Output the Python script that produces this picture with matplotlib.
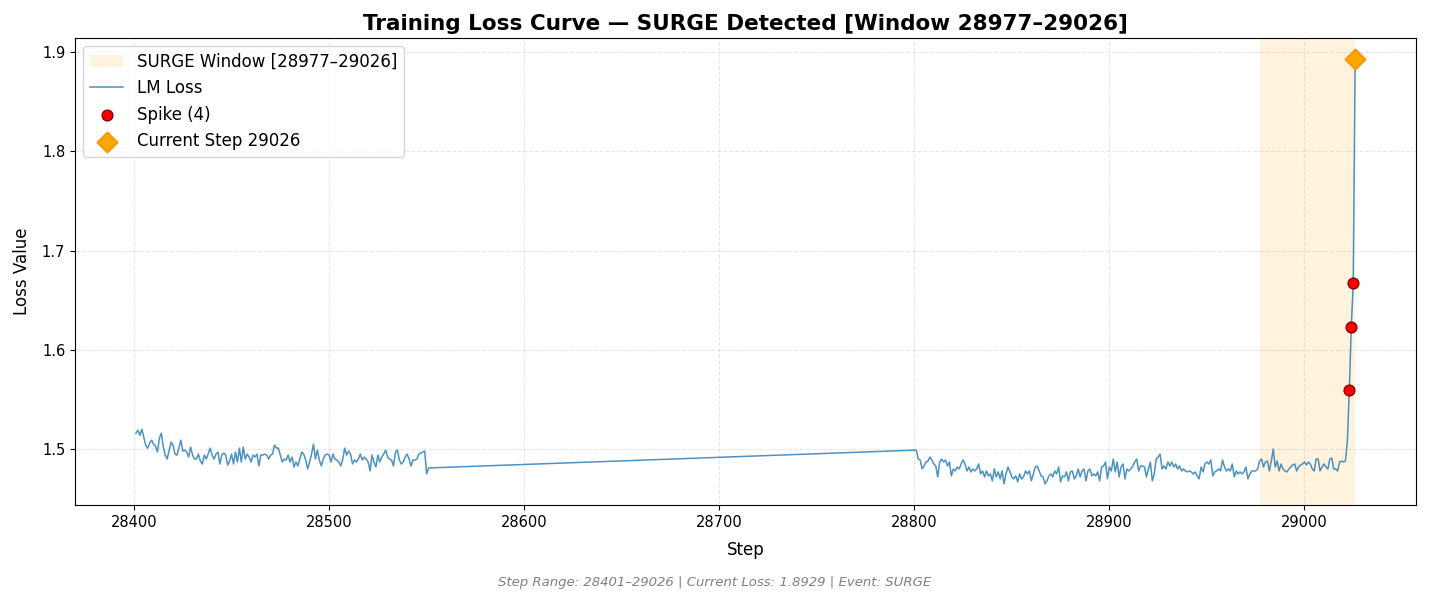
import numpy as np
import matplotlib
matplotlib.use('Agg')
import matplotlib.pyplot as plt

# Loss values (steps 28401-28551, then 28801-29026)
seg1_start = 28401
seg1_loss = [
    1.516, 1.519, 1.514, 1.520, 1.512, 1.504, 1.501, 1.506, 1.509, 1.505,
    1.503, 1.497, 1.511, 1.516, 1.502, 1.494, 1.490, 1.499, 1.507, 1.504,
    1.495, 1.494, 1.501, 1.509, 1.498, 1.499, 1.497, 1.492, 1.502, 1.494,
    1.490, 1.490, 1.495, 1.488, 1.485, 1.494, 1.490, 1.495, 1.501, 1.494,
    1.490, 1.495, 1.497, 1.485, 1.494, 1.496, 1.494, 1.484, 1.488,
    1.495, 1.485, 1.497, 1.487, 1.501, 1.487, 1.502, 1.490, 1.495, 1.492,
    1.487, 1.494, 1.492, 1.495, 1.483, 1.494, 1.494, 1.495, 1.494, 1.490,
    1.494, 1.495, 1.504, 1.501, 1.501, 1.494, 1.487, 1.490, 1.489, 1.494,
    1.487, 1.492, 1.482, 1.487, 1.483, 1.490, 1.497, 1.495, 1.489, 1.480,
    1.487, 1.495, 1.505, 1.490, 1.499, 1.489, 1.483, 1.490, 1.494, 1.495,
    1.494, 1.487, 1.495, 1.490, 1.489, 1.487, 1.483, 1.490, 1.501, 1.494,
    1.498, 1.495, 1.485, 1.489, 1.487, 1.490, 1.495, 1.489, 1.492, 1.490,
    1.487, 1.478, 1.494, 1.487, 1.482, 1.494, 1.487, 1.492, 1.495, 1.499,
    1.492, 1.490, 1.489, 1.483, 1.497, 1.499, 1.489, 1.485, 1.487, 1.492,
    1.495, 1.490, 1.483, 1.489, 1.489, 1.490, 1.495, 1.496, 1.497, 1.498,
    1.475, 1.481,
]
seg2_start = 28801
seg2_loss = [
    1.499, 1.490, 1.489, 1.480, 1.483, 1.487, 1.488, 1.492, 1.489, 1.485,
    1.483, 1.472, 1.487, 1.490, 1.487, 1.489, 1.483, 1.487, 1.473, 1.480,
    1.478, 1.482, 1.480, 1.485, 1.489, 1.485, 1.478, 1.482, 1.477, 1.480,
    1.478, 1.480, 1.485, 1.475, 1.478, 1.472, 1.478, 1.473, 1.475, 1.468,
    1.480, 1.472, 1.477, 1.470, 1.478, 1.465, 1.475, 1.482, 1.477, 1.472,
    1.470, 1.473, 1.467, 1.475, 1.470, 1.472, 1.478, 1.475,
    1.478, 1.468, 1.475, 1.482, 1.483, 1.478, 1.473, 1.472, 1.465, 1.468,
    1.473, 1.475, 1.472, 1.478, 1.475, 1.482, 1.467, 1.473, 1.472, 1.477,
    1.468, 1.477, 1.478, 1.470, 1.473, 1.480, 1.472, 1.478, 1.480, 1.468,
    1.478, 1.480, 1.473, 1.475, 1.473, 1.477, 1.468, 1.482, 1.483, 1.487,
    1.470, 1.482, 1.478, 1.490, 1.477, 1.487, 1.472, 1.482, 1.485, 1.470,
    1.480, 1.478, 1.480, 1.483, 1.487, 1.490, 1.478, 1.483,
    1.483, 1.482, 1.472, 1.480, 1.487, 1.468, 1.475, 1.490, 1.492, 1.495,
    1.480, 1.483, 1.480, 1.487, 1.483, 1.487, 1.482, 1.485, 1.480, 1.483,
    1.478, 1.480, 1.478, 1.477, 1.478, 1.477, 1.475, 1.477, 1.473, 1.470,
    1.482, 1.477, 1.485, 1.487, 1.485, 1.489, 1.473, 1.477, 1.478, 1.480,
    1.478, 1.489, 1.482, 1.478, 1.480, 1.478, 1.485, 1.472, 1.478, 1.475,
    1.477, 1.475, 1.477, 1.482, 1.470, 1.475, 1.478, 1.478,
    1.478, 1.480, 1.488, 1.490, 1.482, 1.487, 1.488, 1.478, 1.488, 1.500,
    1.482, 1.488, 1.478, 1.485, 1.480, 1.478, 1.477, 1.480, 1.482, 1.484,
    1.485, 1.478, 1.482, 1.484, 1.485, 1.487, 1.484, 1.487, 1.485, 1.480,
    1.478, 1.490, 1.490, 1.478, 1.482, 1.485, 1.482, 1.480, 1.490, 1.491,
    1.480, 1.480, 1.478, 1.487, 1.488,
    1.487, 1.488, 1.508,
    1.560, 1.623, 1.667, 1.8929,
]
spike_steps = [29023, 29024, 29025, 29026]
window = (28977, 29026)
current_step = 29026

steps = np.concatenate([np.arange(seg1_start, seg1_start + len(seg1_loss)),
                        np.arange(seg2_start, seg2_start + len(seg2_loss))])
loss = np.array(seg1_loss + seg2_loss)
lookup = dict(zip(steps, loss))
spike_vals = [lookup[s] for s in spike_steps]
current_loss = lookup[current_step]

fig, ax = plt.subplots(figsize=(14.29, 6.02), dpi=100)
fig.subplots_adjust(left=0.0525, right=0.991, top=0.937, bottom=0.161)

ax.axvspan(window[0], window[1], color='orange', alpha=0.13, lw=0,
           label=f'SURGE Window [{window[0]}\u2013{window[1]}]')
ax.plot(steps, loss, color='#1f77b4', alpha=0.8, lw=1.1, label='LM Loss')
ax.scatter(spike_steps, spike_vals, color='red', edgecolors='darkred', s=60,
           zorder=5, label=f'Spike ({len(spike_steps)})')
ax.scatter([current_step], [current_loss], marker='D', color='orange',
           edgecolors='darkorange', s=110, zorder=6,
           label=f'Current Step {current_step}')

ax.set_title(f'Training Loss Curve \u2014 SURGE Detected [Window {window[0]}\u2013{window[1]}]',
             fontsize=15.5, fontweight='bold', pad=6)
ax.set_xlabel('Step', fontsize=12, labelpad=8)
ax.set_ylabel('Loss Value', fontsize=12, labelpad=8)
ax.tick_params(labelsize=10.5)
ax.grid(True, linestyle='--', alpha=0.3)
ax.legend(loc='upper left', fontsize=12)

fig.text(0.5, 0.027,
         f'Step Range: {steps[0]}\u2013{steps[-1]} | Current Loss: {current_loss:.4f} | Event: SURGE',
         ha='center', fontsize=9.5, style='italic', color='gray')

plt.savefig('out.png', dpi=100)
